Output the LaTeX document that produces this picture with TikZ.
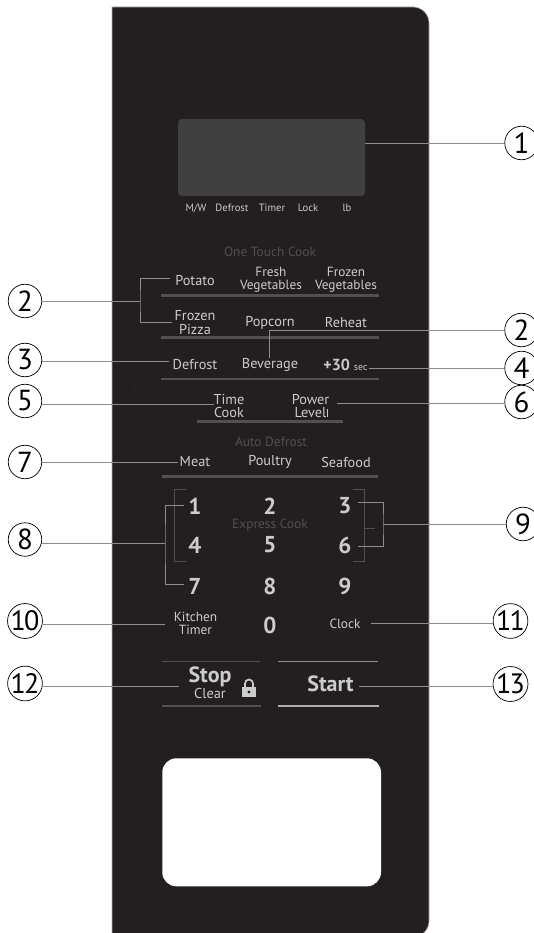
\documentclass[tikz,border=0pt]{standalone}
\usepackage{fontspec}
\setmainfont{PT Sans}
\definecolor{panelcol}{HTML}{231F20}
\definecolor{screencol}{HTML}{404040}
\definecolor{keycol}{HTML}{CCCCCC}
\definecolor{dimcol}{HTML}{4F4F4F}
\definecolor{barcol}{HTML}{505050}
\definecolor{leadcol}{HTML}{8C8C8C}
\tikzset{
    keylabel/.style={text=keycol, inner sep=0pt, align=center, font=\fontsize{13.3}{13.5}\selectfont},
    bigkey/.style={text=keycol, inner sep=0pt, align=center, font=\fontsize{14.3}{13.5}\selectfont},
    digitlabel/.style={text=keycol, inner sep=0pt, font=\fontsize{23}{23}\bfseries\selectfont},
    dimlabel/.style={text=dimcol, inner sep=0pt, font=\fontsize{13.4}{14}\selectfont},
    statuslabel/.style={text=keycol, inner sep=0pt, font=\fontsize{10.6}{11}\selectfont},
    callout/.style={draw=black, line width=0.7pt, circle, minimum size=33.5pt, inner sep=0pt, font=\fontsize{29}{29}\selectfont},
    twodigit/.style={callout, font=\fontsize{28}{28}\selectfont},
    leader/.style={leadcol, line width=0.9pt},
    innerlead/.style={barcol, line width=0.8pt},
    keybar/.style={barcol, line width=2.6pt},
}
\begin{document}
\begin{tikzpicture}[x=1pt,y=-1pt]
                \useasboundingbox (0,0) rectangle (534,933);
                % panel
                \path[clip] (0,0) rectangle (534,933);
                \draw[leadcol!70, fill=panelcol, line width=0.6pt] (112,937) -- (112,7)
                    {[rounded corners=16pt] -- (429,7) -- (429,937)} -- cycle;
                \fill[screencol, rounded corners=4pt] (178,119) rectangle (365,196);
                \fill[white, rounded corners=14pt] (162.3,758.3) rectangle (381,886.3);

                % status line
                \node[statuslabel] (mw) at (196,208) {M/W};
                \node[statuslabel] (defrostlamp) at (232,208) {Defrost};
                \node[statuslabel] (timerlamp) at (272,208) {Timer};
                \node[statuslabel] (locklamp) at (308,208) {Lock};
                \node[statuslabel] (lblamp) at (347,208) {lb};

                % keys
                \node[dimlabel] (onetouch) at (270,252) {One Touch Cook};
                \node[bigkey] (potato) at (195,280.5) {Potato};
                \node[keylabel] (freshveg) at (271,280) {Fresh\\Vegetables};
                \node[keylabel] (frozenveg) at (346,280) {Frozen\\Vegetables};
                \node[bigkey] (pizza) at (195,322.5) {Frozen\\Pizza};
                \node[bigkey] (popcorn) at (270,322.5) {Popcorn};
                \node[bigkey] (reheat) at (346,322.5) {Reheat};
                \node[bigkey] (defrost) at (195,364.5) {Defrost};
                \node[bigkey] (beverage) at (270,364.5) {Beverage};
                \node[keylabel] (plusthirty) at (345.5,364.5) {\fontsize{16}{16}\bfseries\selectfont +30 \fontsize{10}{10}\mdseries\selectfont sec};
                \node[bigkey] (timecook) at (229,406) {Time\\Cook};
                \node[bigkey] (powerlevel) at (310.5,406) {Power\\Level};
                \node[dimlabel] (autodefrost) at (271,442) {Auto Defrost};
                \node[bigkey] (meat) at (195,462) {Meat};
                \node[bigkey] (poultry) at (270,462) {Poultry};
                \node[bigkey] (seafood) at (346,462.5) {Seafood};
                \node[digitlabel] (one) at (195,506) {1};
                \node[digitlabel] (two) at (270,506) {2};
                \node[digitlabel] (three) at (345,506) {3};
                \node[dimlabel] (express) at (270,525) {Express Cook};
                \node[digitlabel] (four) at (195,545) {4};
                \node[digitlabel] (five) at (270,545) {5};
                \node[digitlabel] (six) at (345,545) {6};
                \node[digitlabel] (seven) at (195,586) {7};
                \node[digitlabel] (eight) at (270,586) {8};
                \node[digitlabel] (nine) at (345,586) {9};
                \node[keylabel] (kitchen) at (195.5,623.5) {Kitchen\\Timer};
                \node[digitlabel] (zero) at (270,625) {0};
                \node[keylabel] (clock) at (345,623.5) {Clock};
                \node[text=keycol, inner sep=0pt, font=\fontsize{22}{22}\bfseries\selectfont] (stopkey) at (210,677) {Stop};
                \node[bigkey] (clearkey) at (210,693) {Clear};
                \node[text=keycol, inner sep=0pt, font=\fontsize{22}{22}\bfseries\selectfont] (startkey) at (330.5,684) {Start};

                % lock
                \fill[keycol] (242,687) rectangle (256,697);
                \draw[keycol, line width=1.7pt] (245,687) -- (245,683.5) arc (180:360:4) -- (253,687);
                \fill[panelcol] (249,692) circle (1.6pt);

                % bars
                \draw[keybar] (161,295.5) -- (379,295.5);
                \draw[keybar] (161,337.5) -- (379,337.5);
                \draw[keybar] (161,379) -- (379,379);
                \draw[keybar] (196.5,421.5) -- (343,421.5);
                \draw[keybar] (162,476.5) -- (378,476.5);
                \draw[barcol, line width=0.9pt] (162,661) -- (260,661);
                \draw[leadcol, line width=0.9pt] (278,661) -- (378,661);
                \draw[keybar] (161.5,706) -- (261,706);
                \draw[line width=2.6pt, keycol!85!black] (278,706) -- (379,706);

                % brackets on the keypad
                \draw[innerlead] (185.5,489) -- (174.5,489) -- (174.5,561) -- (185.5,561);
                \draw[innerlead] (352.5,489) -- (364,489) -- (364,561) -- (352.5,561);
                \draw[innerlead] (365,528.7) -- (375,528.7);
                \draw[keycol, line width=0.6pt] (327,409) -- (327,417);
                \fill[barcol] (134.5,389) circle (0.5pt);
                \fill[barcol] (419,389) circle (0.5pt);

                % callouts
                \node[callout] (callone) at (521.5,143) {1};
                \node[callout] (calltwoa) at (25,301) {2};
                \node[callout] (calltwob) at (521.5,330) {2};
                \node[callout] (callthree) at (25,360) {3};
                \node[callout] (callfour) at (521.5,368) {4};
                \node[callout] (callfive) at (25,401) {5};
                \node[callout] (callsix) at (521.5,402) {6};
                \node[callout] (callseven) at (25,462) {7};
                \node[callout] (calleight) at (25,539.5) {8};
                \node[callout] (callnine) at (523,524) {9};
                \node[twodigit] (callten) at (25,621) {1\kern-2pt0};
                \node[twodigit] (calleleven) at (510.5,621) {1\kern-2pt1};
                \node[twodigit] (calltwelve) at (25,683.5) {1\kern-2pt2};
                \node[twodigit] (callthirteen) at (510.5,684) {1\kern-2pt3};

                % leader lines
                \coordinate (screenedge) at (365,143);
                \coordinate (fork) at (140,301);
                \coordinate (potatoend) at (170,278.5);
                \coordinate (pizzaend) at (172,322.5);
                \coordinate (beverageend) at (269,358);
                \coordinate (keyfork) at (165,543);
                \coordinate (oneend) at (184,505);
                \coordinate (sevenend) at (184,584);
                \coordinate (numfork) at (383,524);
                \coordinate (threeend) at (358,502.5);
                \coordinate (sixend) at (358,546.5);
                \draw[leader] (screenedge) -- (callone);
                \draw[leader] (calltwoa) -- (fork);
                \draw[leader] (potatoend) -| (fork) |- (pizzaend);
                \draw[leader] (calltwob.west) -- (269,330) -- (beverageend);
                \draw[leader] (callthree.east |- 0,361.5) -- (169,361.5);
                \draw[leader] (368.5,368.5) -- (callfour.west |- 0,368.5);
                \draw[leader] (callfive.east |- 0,404.5) -- (214,404.5);
                \draw[leader] (337,403.5) -- (callsix.west |- 0,403.5);
                \draw[leader] (callseven) -- (178,462);
                \draw[leader] (calleight.east |- keyfork) -- (keyfork);
                \draw[leader] (oneend) -| (keyfork) |- (sevenend);
                \draw[leader] (numfork) -- (callnine.west |- numfork);
                \draw[leader] (threeend) -| (numfork) |- (sixend);
                \draw[leader] (callten.east |- 0,624.5) -- (165,624.5);
                \draw[leader] (371,623) -- (calleleven.west |- 0,623);
                \draw[leader] (calltwelve.east |- 0,686.5) -- (179,686.5);
                \draw[leader] (359,686) -- (callthirteen.west |- 0,686);
\end{tikzpicture}
\end{document}
